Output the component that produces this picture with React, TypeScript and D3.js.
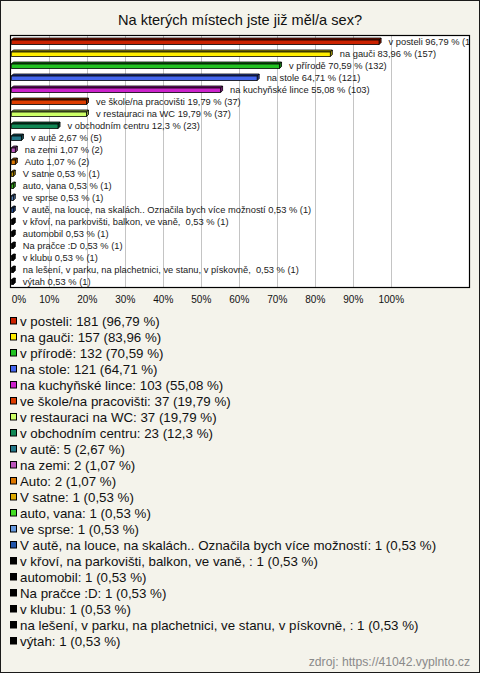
import React from "react";
import * as d3 from "d3";

const W = 480;
const H = 673;

const categories = [
  "v posteli",
  "na gauči",
  "v přírodě",
  "na stole",
  "na kuchyňské lince",
  "ve škole/na pracovišti",
  "v restauraci na WC",
  "v obchodním centru",
  "v autě",
  "na zemi",
  "Auto",
  "V satne",
  "auto, vana",
  "ve sprse",
  "V autě, na louce, na skalách.. Označila bych více možností",
  "v křoví, na parkovišti, balkon, ve vaně, ",
  "automobil",
  "Na pračce :D",
  "v klubu",
  "na lešení, v parku, na plachetnici, ve stanu, v pískovně, ",
  "výtah",
];

const counts = [181, 157, 132, 121, 103, 37, 37, 23, 5, 2, 2, 1, 1, 1, 1, 1, 1, 1, 1, 1, 1];

const percents = [
  96.79, 83.96, 70.59, 64.71, 55.08, 19.79, 19.79, 12.3, 2.67, 1.07, 1.07,
  0.53, 0.53, 0.53, 0.53, 0.53, 0.53, 0.53, 0.53, 0.53, 0.53,
];

const colors = [
  "#cc2200",
  "#ffee00",
  "#22c322",
  "#4466ee",
  "#cc22cc",
  "#dd3c00",
  "#ccff66",
  "#118855",
  "#227788",
  "#bb55bb",
  "#dd7700",
  "#ddaa00",
  "#44dd22",
  "#6699dd",
  "#2255aa",
  "#000000",
  "#000000",
  "#000000",
  "#000000",
  "#000000",
  "#000000",
];

const tickValues = [0, 10, 20, 30, 40, 50, 60, 70, 80, 90, 100];
const tickLabels = ["0%", "10%", "20%", "30%", "40%", "50%", "60%", "70%", "80%", "90%", "100%"];

const title = "Na kterých místech jste již měl/a sex?";
const source = "zdroj: https://41042.vyplnto.cz";

const FONT = "'Liberation Sans', Arial, sans-serif";
const BG = "#f4f3eb";

const fmt = (v: number) => String(v).replace(".", ",");

export default function App() {
  const plot = { left: 10.5, top: 35.5, right: 469.5, bottom: 287.5 };
  const x = d3.scaleLinear().domain([0, 100]).range([11.3, 391.3]);
  const y = d3
    .scaleBand<string>()
    .domain(categories.map((c, i) => String(i)))
    .range([plot.top, plot.bottom])
    .paddingInner(0)
    .paddingOuter(0);
  const depth = 2;
  const barH = 4.5;

  const legendY = d3
    .scalePoint<string>()
    .domain(categories.map((c, i) => String(i)))
    .range([320.5, 640.5]);

  return (
    <svg
      width={W}
      height={H}
      style={{ position: "absolute", left: 0, top: 0, fontFamily: FONT }}
    >
      <defs>
        <clipPath id="plotClip">
          <rect
            x={plot.left}
            y={plot.top}
            width={plot.right - plot.left}
            height={plot.bottom - plot.top}
          />
        </clipPath>
      </defs>
      <rect x={0.5} y={0.5} width={W - 1} height={H - 1} fill={BG} stroke="#1a1a1a" strokeWidth={1} />
      <text x={240} y={24.5} textAnchor="middle" fontSize={14.6} fill="#111">
        {title}
      </text>

      <rect
        x={plot.left}
        y={plot.top}
        width={plot.right - plot.left}
        height={plot.bottom - plot.top}
        fill="#ffffff"
      />
      {tickValues
        .filter((t) => t > 0)
        .map((t) => (
          <line
            key={"g" + t}
            x1={Math.round(x(t)) + 0.5}
            x2={Math.round(x(t)) + 0.5}
            y1={plot.top}
            y2={plot.bottom}
            stroke="#c4c4c4"
            strokeWidth={1}
          />
        ))}

      <g>
        {categories.map((c, i) => {
          const top = (y(String(i)) as number) + 4.5;
          const x0 = x(0);
          const x1 = Math.max(x(percents[i]), x0 + 1.5);
          const col = colors[i];
          const dark = d3.color(col)!.darker(1.2).formatHex();
          const bot = top + barH;
          return (
            <g key={"b" + i} stroke="#000" strokeWidth={0.8} strokeLinejoin="round">
              <polygon
                points={`${x0},${top} ${x0 + depth},${top - depth} ${x1 + depth},${top - depth} ${x1},${top}`}
                fill={dark}
              />
              <polygon
                points={`${x1},${top} ${x1 + depth},${top - depth} ${x1 + depth},${bot - depth} ${x1},${bot}`}
                fill={dark}
              />
              <rect x={x0} y={top} width={x1 - x0} height={barH} fill={col} />
            </g>
          );
        })}
      </g>

      <g clipPath="url(#plotClip)">
        {categories.map((c, i) => {
          const top = (y(String(i)) as number) + 4.5;
          return (
            <text
              key={"l" + i}
              x={x(percents[i]) + 9.5}
              y={top + barH}
              fontSize={9.3}
              fill="#1a1a1a"
              style={{ whiteSpace: "pre" }}
            >
              {`${c} ${fmt(percents[i])} % (${counts[i]})`}
            </text>
          );
        })}
      </g>

      <rect
        x={plot.left}
        y={plot.top}
        width={plot.right - plot.left}
        height={plot.bottom - plot.top}
        fill="none"
        stroke="#000"
        strokeWidth={1.2}
      />

      {tickValues.map((t, i) => (
        <text
          key={"t" + t}
          x={t === 0 ? x(t) + 0.5 : x(t)}
          y={303}
          textAnchor={t === 0 ? "start" : "middle"}
          fontSize={10}
          fill="#111"
        >
          {tickLabels[i]}
        </text>
      ))}

      {categories.map((c, i) => {
        const cy = legendY(String(i)) as number;
        return (
          <g key={"lg" + i}>
            <rect
              x={10.5}
              y={cy - 3}
              width={6}
              height={6.5}
              fill={colors[i]}
              stroke="#000"
              strokeWidth={1}
            />
            <text x={20} y={cy + 5} fontSize={13.3} fill="#111" style={{ whiteSpace: "pre" }}>
              {`${c}: ${counts[i]} (${fmt(percents[i])} %)`}
            </text>
          </g>
        );
      })}

      <text x={470} y={666} textAnchor="end" fontSize={12.2} fill="#8a8a8a">
        {source}
      </text>
    </svg>
  );
}
